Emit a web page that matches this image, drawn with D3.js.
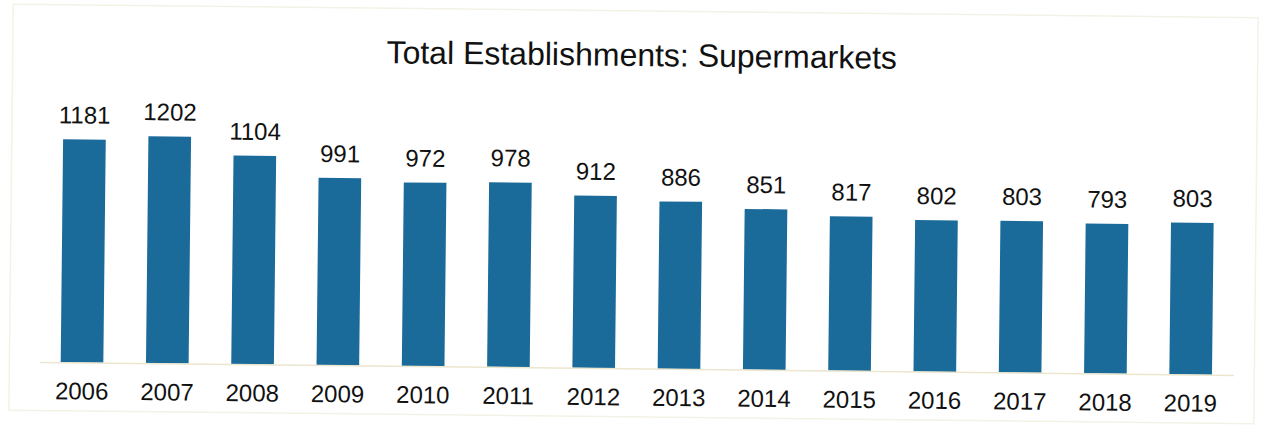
<!DOCTYPE html>
<html>
<head>
<meta charset="utf-8">
<script src="https://cdn.jsdelivr.net/npm/d3@7"></script>
<style>
  body { margin: 0; background: #ffffff; }
  svg { display: block; }
</style>
</head>
<body>
<svg id="chart"></svg>
<script>
// values
let years = ["2006", "2007", "2008", "2009", "2010", "2011", "2012",
             "2013", "2014", "2015", "2016", "2017", "2018", "2019"];
let counts = [1181, 1202, 1104, 991, 972, 978, 912, 886, 851, 817, 802, 803, 793, 803];
let title = "Total Establishments: Supermarkets";

let width = 1265;
let height = 429;

let chart = d3.select("#chart").attr("width", width).attr("height", height)

let data = years.map((y, i) => ({ year: y, value: counts[i] }))

// the scan is tilted a little clockwise
let g = chart.append("g")
    .attr("transform", "rotate(0.62, 640, 215)")

// faint outer frame
g.append("rect")
    .attr("x", 11)
    .attr("y", 11)
    .attr("width", 1245)
    .attr("height", 406)
    .style("fill", "none")
    .style("stroke", "#f4f2e6")
    .style("stroke-width", 1.5)

let xscale = d3.scaleBand()
    .domain(years)
    .range([41, 1235])
    .paddingInner(0.5)
    .paddingOuter(0.25)

let yscale = d3.scaleLinear()
    .domain([0, 1300])
    .range([368.5, 123])

g.append("text")
    .attr("x", 640)
    .attr("y", 66)
    .style("text-anchor", "middle")
    .style("font-family", "'Liberation Sans', Arial, sans-serif")
    .style("font-size", "32px")
    .style("fill", "#111")
    .text(title)

g.selectAll("rect.bar").data(data)
    .enter().append("rect")
    .attr("class", "bar")
    .attr("x", d => xscale(d.year))
    .attr("y", d => yscale(d.value))
    .attr("width", xscale.bandwidth())
    .attr("height", d => yscale(0) - yscale(d.value))
    .style("fill", "#1a6a9a")

// baseline axis, no ticks
let axis = g.append("g")
    .attr("transform", "translate(0," + yscale(0) + ")")
    .call(d3.axisBottom(xscale).tickSize(0).tickPadding(0))

axis.select(".domain")
    .attr("stroke", "#ebe6cf")
    .attr("stroke-width", 1.5)

axis.selectAll(".tick text")
    .attr("dy", 0)
    .attr("y", 37)
    .style("font-family", "'Liberation Sans', Arial, sans-serif")
    .style("font-size", "24px")
    .style("fill", "#111")

g.selectAll("text.val").data(data)
    .enter().append("text")
    .attr("class", "val")
    .attr("x", d => xscale(d.year) + xscale.bandwidth() / 2)
    .attr("y", d => yscale(d.value) - 16)
    .style("text-anchor", "middle")
    .style("font-family", "'Liberation Sans', Arial, sans-serif")
    .style("font-size", "24px")
    .style("fill", "#111")
    .text(d => d.value)
</script>
</body>
</html>
